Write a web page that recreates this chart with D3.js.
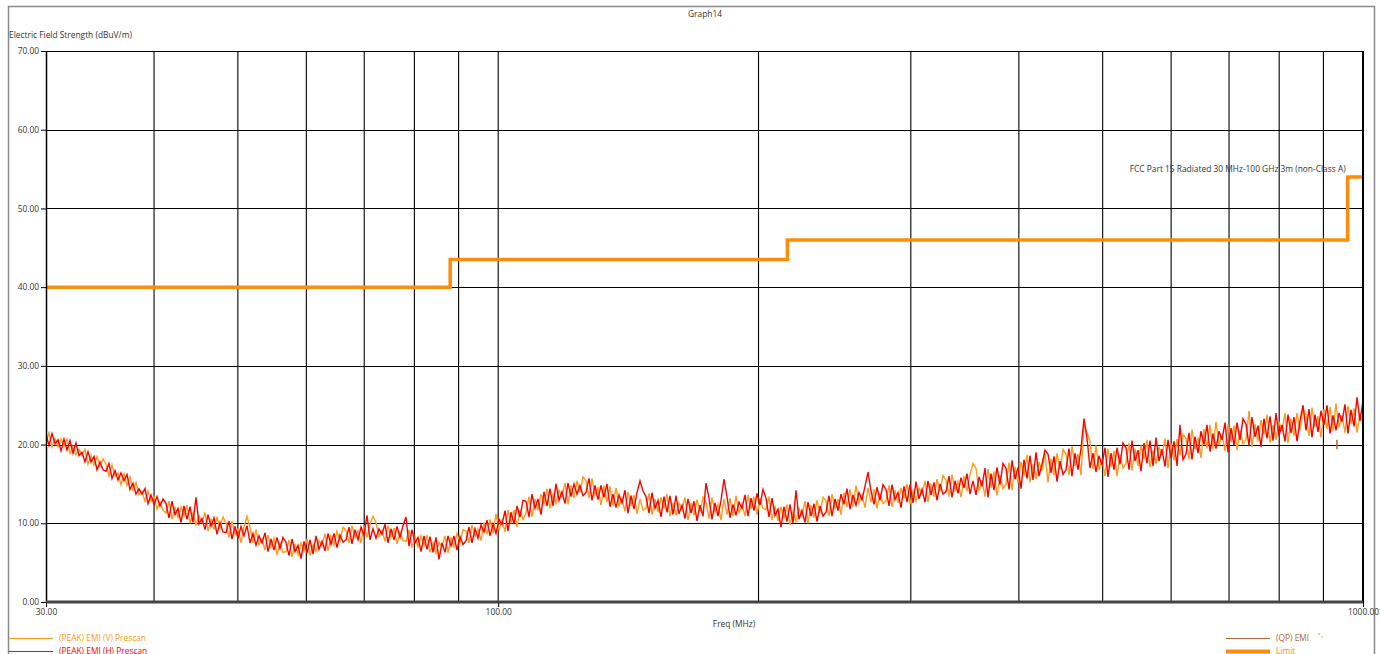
<!DOCTYPE html>
<html>
<head>
<meta charset="utf-8">
<script src="https://cdn.jsdelivr.net/npm/d3@7/dist/d3.min.js"></script>
<style>
  body { margin: 0; background: #fff; }
  svg text { font-family: 'Open Sans', 'Noto Sans', sans-serif; }
</style>
</head>
<body>
<div id="chart"></div>
<script>
'use strict';

// Sweep: 30 MHz to 1 GHz, log spaced readings
var sweepStart = 30
var sweepStop = 1000
var sweepCount = 440

// (PEAK) EMI (H) Prescan, dBuV/m
var peakH = [
  21.3, 19.9, 21.4, 20.1, 20.6, 19.2, 20.7, 19.3, 20.5, 18.9,
  20.2, 18.6, 19.0, 17.8, 19.1, 17.8, 18.5, 16.8, 17.8, 16.8,
  16.6, 17.6, 15.7, 16.7, 15.5, 16.4, 15.4, 16.2, 14.3, 15.1,
  13.7, 14.4, 13.7, 14.4, 12.5, 13.6, 12.4, 13.4, 12.2, 13.1,
  12.5, 10.7, 12.8, 11.1, 11.9, 10.1, 12.2, 10.5, 12.1, 10.1,
  13.3, 9.9, 10.6, 9.2, 11.1, 9.6, 10.7, 8.6, 10.1, 8.9,
  8.8, 10.3, 8.0, 9.6, 8.1, 9.6, 8.4, 9.7, 7.5, 8.7,
  7.2, 8.4, 7.5, 8.8, 6.4, 8.0, 6.6, 8.2, 6.8, 8.2,
  7.6, 5.9, 8.0, 6.4, 7.2, 5.5, 7.7, 6.2, 7.9, 6.1,
  8.4, 6.7, 7.7, 6.5, 8.7, 7.3, 8.7, 6.9, 8.5, 7.6,
  7.9, 9.5, 7.4, 9.2, 7.9, 9.5, 8.5, 11.0, 7.9, 9.3,
  8.1, 9.3, 8.6, 9.9, 7.5, 9.3, 7.9, 9.6, 8.2, 9.7,
  10.8, 7.1, 9.2, 7.5, 8.2, 6.4, 8.4, 6.7, 8.3, 6.3,
  8.2, 5.4, 7.5, 6.3, 8.4, 7.1, 8.4, 6.6, 8.3, 7.3,
  7.8, 9.5, 7.5, 9.3, 8.1, 9.8, 8.9, 10.4, 8.4, 9.9,
  8.7, 10.5, 9.8, 11.6, 9.0, 11.4, 9.9, 12.2, 10.8, 12.9,
  12.8, 10.8, 13.7, 11.9, 13.1, 11.1, 14.0, 12.2, 14.4, 12.2,
  15.0, 12.9, 14.0, 12.5, 15.1, 13.4, 15.0, 13.7, 14.8, 13.5,
  13.9, 15.7, 12.9, 14.8, 13.0, 14.8, 13.3, 15.0, 12.1, 13.7,
  12.0, 13.6, 12.6, 14.2, 11.3, 13.5, 11.8, 13.9, 15.4, 14.1,
  13.4, 11.3, 13.9, 11.9, 12.9, 10.8, 13.4, 11.4, 13.5, 11.1,
  13.5, 11.2, 12.3, 10.6, 13.1, 11.3, 12.8, 10.3, 12.3, 10.9,
  15.1, 13.2, 10.5, 12.6, 10.9, 12.9, 15.6, 13.4, 10.7, 12.4,
  11.0, 12.7, 11.9, 13.6, 10.9, 13.2, 11.6, 13.8, 12.3, 14.3,
  13.2, 10.8, 13.2, 11.0, 11.8, 9.5, 12.1, 10.2, 12.4, 10.0,
  14.2, 10.5, 11.6, 10.1, 12.7, 10.9, 12.5, 10.2, 12.2, 10.9,
  11.4, 13.5, 10.9, 13.1, 11.6, 13.7, 12.4, 14.4, 11.8, 13.6,
  12.3, 13.9, 13.0, 14.7, 16.5, 14.1, 12.4, 14.6, 12.9, 14.9,
  14.3, 12.2, 14.9, 13.0, 13.9, 12.0, 14.7, 12.7, 14.9, 12.6,
  15.3, 13.1, 14.3, 12.7, 15.4, 13.6, 15.2, 12.9, 15.0, 13.7,
  14.0, 16.0, 13.3, 15.4, 13.8, 15.8, 14.5, 16.3, 13.7, 15.4,
  13.6, 15.9, 14.7, 17.0, 13.3, 16.3, 14.2, 17.1, 14.9, 17.6,
  17.0, 14.3, 18.0, 15.6, 17.1, 14.4, 18.1, 15.7, 18.6, 15.5,
  19.0, 16.0, 17.5, 19.3, 18.8, 16.4, 18.5, 15.3, 17.9, 16.2,
  16.8, 19.5, 16.0, 18.9, 16.8, 19.5, 23.3, 20.8, 17.0, 18.9,
  16.5, 18.6, 17.4, 19.6, 15.9, 18.9, 16.8, 19.6, 17.5, 20.2,
  19.6, 16.8, 20.5, 17.9, 19.3, 16.6, 20.2, 17.6, 20.5, 17.3,
  20.9, 17.9, 19.4, 17.2, 20.6, 18.3, 20.4, 17.3, 22.5, 18.1,
  18.8, 21.5, 18.1, 21.0, 18.9, 21.7, 20.0, 22.5, 19.1, 21.4,
  19.5, 21.7, 20.6, 22.8, 19.0, 22.1, 19.9, 22.8, 20.6, 23.3,
  22.6, 19.9, 23.5, 21.0, 22.4, 19.7, 23.3, 20.8, 23.6, 20.5,
  24.0, 21.1, 22.5, 20.4, 23.8, 21.5, 23.5, 20.4, 23.0, 25.0,
  21.8, 24.5, 20.9, 23.8, 21.6, 24.3, 22.5, 25.0, 21.4, 23.7,
  21.8, 24.0, 22.9, 25.1, 21.4, 24.4, 22.3, 26.0, 23.0, 25.6
]

// (PEAK) EMI (V) Prescan, dBuV/m
var peakV = [
  20.4, 21.5, 19.7, 20.8, 19.7, 20.7, 19.8, 20.7, 18.9, 19.8,
  18.7, 19.4, 18.7, 19.4, 17.5, 18.6, 17.4, 18.5, 17.3, 18.2,
  17.5, 16.0, 17.4, 16.0, 16.4, 14.9, 16.3, 14.8, 15.9, 14.2,
  15.2, 13.6, 14.0, 12.8, 14.1, 12.8, 13.4, 11.8, 12.7, 11.7,
  11.3, 12.8, 10.5, 12.1, 10.7, 12.1, 11.0, 12.3, 10.0, 11.3,
  9.8, 11.0, 10.1, 11.4, 9.0, 10.6, 9.2, 10.8, 9.4, 10.8,
  10.0, 8.2, 10.3, 8.6, 9.3, 7.5, 9.6, 10.9, 9.5, 7.5,
  9.2, 7.3, 8.0, 6.6, 8.5, 7.0, 8.1, 6.0, 7.5, 6.3,
  6.4, 7.9, 5.7, 7.4, 6.0, 7.5, 6.5, 8.0, 5.9, 7.3,
  6.4, 7.8, 7.2, 8.7, 6.5, 8.4, 7.2, 9.0, 7.8, 9.5,
  9.1, 7.5, 9.7, 8.2, 9.1, 7.5, 9.7, 8.2, 9.9, 10.9,
  10.1, 8.3, 9.1, 7.7, 9.7, 8.2, 9.4, 7.4, 8.9, 7.8,
  7.7, 9.2, 6.9, 8.4, 7.0, 8.4, 7.2, 8.5, 6.3, 7.5,
  6.2, 7.6, 7.0, 8.4, 6.2, 8.2, 7.0, 8.7, 7.5, 9.2,
  9.0, 7.5, 9.8, 8.3, 9.3, 7.8, 10.1, 8.6, 10.5, 8.7,
  11.2, 9.1, 10.4, 8.9, 11.7, 10.0, 11.7, 9.5, 11.7, 10.5,
  11.3, 13.4, 10.8, 13.1, 11.6, 13.7, 12.5, 14.4, 11.9, 13.7,
  12.5, 14.2, 13.4, 15.1, 12.4, 14.8, 13.2, 15.4, 13.9, 15.9,
  15.4, 13.2, 15.7, 13.6, 14.5, 12.3, 14.8, 12.7, 14.7, 12.2,
  14.5, 12.2, 13.2, 11.5, 14.0, 12.2, 13.6, 11.2, 13.1, 11.7,
  11.9, 13.8, 11.1, 13.1, 11.4, 13.3, 11.9, 13.7, 10.9, 12.6,
  11.0, 12.6, 11.7, 13.3, 10.4, 12.6, 11.0, 13.0, 11.4, 13.3,
  12.7, 10.6, 13.3, 11.4, 12.4, 10.4, 13.1, 11.1, 13.2, 10.9,
  13.5, 11.3, 12.5, 10.9, 13.6, 11.8, 13.4, 11.1, 13.2, 11.9,
  11.7, 13.4, 10.4, 12.2, 10.3, 12.1, 10.6, 12.4, 9.8, 11.5,
  10.2, 11.9, 11.0, 12.8, 10.0, 12.3, 10.7, 12.9, 11.3, 13.3,
  12.9, 10.9, 13.7, 11.9, 13.1, 11.1, 13.9, 12.1, 14.3, 12.1,
  14.8, 12.6, 13.6, 12.0, 14.5, 12.7, 14.3, 11.9, 13.8, 12.5,
  12.8, 14.8, 12.1, 14.2, 12.6, 14.5, 13.2, 15.0, 12.4, 14.1,
  12.8, 14.5, 13.7, 15.4, 12.7, 15.0, 13.4, 15.6, 14.1, 16.1,
  15.5, 13.4, 16.2, 14.2, 15.3, 13.3, 16.0, 14.1, 16.2, 17.6,
  17.0, 14.1, 15.5, 13.4, 16.9, 14.5, 16.6, 13.5, 16.1, 14.4,
  15.0, 17.7, 14.2, 17.2, 15.1, 17.8, 16.1, 18.7, 15.2, 17.5,
  15.6, 17.8, 16.7, 18.9, 15.2, 18.2, 16.1, 18.9, 16.8, 19.4,
  18.8, 16.1, 19.8, 17.3, 18.8, 16.1, 22.6, 21.5, 20.4, 16.9,
  19.9, 16.8, 18.2, 16.0, 19.5, 17.1, 19.2, 16.0, 18.7, 17.0,
  17.6, 20.2, 16.7, 19.5, 17.3, 19.9, 18.2, 20.6, 17.1, 19.3,
  17.5, 19.7, 18.6, 20.8, 17.0, 20.1, 18.0, 20.7, 18.6, 21.3,
  20.8, 18.1, 21.9, 19.4, 20.9, 18.3, 22.0, 19.5, 22.5, 19.4,
  22.9, 19.9, 21.4, 19.2, 22.6, 20.3, 22.4, 19.3, 21.8, 20.1,
  20.6, 24.3, 19.7, 22.6, 20.4, 23.1, 21.3, 23.8, 20.2, 22.5,
  20.6, 22.9, 21.7, 24.0, 20.2, 23.3, 21.1, 24.0, 21.8, 24.5,
  23.8, 21.1, 24.7, 22.2, 23.6, 20.9, 24.5, 22.0, 24.8, 21.7,
  25.2, 22.2, 23.7, 21.5, 24.9, 22.6, 24.6, 21.5, 24.1, 22.4
]

// (QP) EMI final measurement
var qpFreq = [933]
var qpLow = [19.4]
var qpHigh = [20.6]

// Limit: FCC Part 15 radiated, step edges
var limitFreq = [30, 88, 216, 960, 1000]
var limitLevel = [40, 43.5, 46, 54, 54]

var yTicks = [0, 10, 20, 30, 40, 50, 60, 70]
var xTickLabels = [30, 100, 1000]
var xGrid = [40, 50, 60, 70, 80, 90, 100, 200, 300, 400, 500, 600, 700, 800, 900]

var settings = {}
settings.font_size = '8.4px'
settings.text_color = '#333'
settings.color_v = '#ff9a1a'
settings.color_h = '#ff0000'
settings.color_qp = '#b06a2a'
settings.color_limit = '#ff8c0a'

var margin = {top: 51, right: 17, bottom: 52, left: 46},
    width = 1380 - margin.left - margin.right,
    height = 654 - margin.top - margin.bottom

var svg = d3.select('#chart').append('svg')
    .attr('width', 1380)
    .attr('height', 654)

svg.append('rect')
    .attr('width', 1380).attr('height', 654).attr('fill', '#fff')

// outer frame
svg.append('rect')
    .attr('x', 8.5).attr('y', 6.5)
    .attr('width', 1366).attr('height', 700)
    .attr('fill', 'none').attr('stroke', '#8a8a8a').attr('stroke-width', 1.5)

var x = d3.scaleLog().domain([sweepStart, sweepStop]).range([0, width])
var y = d3.scaleLinear().domain([0, 70]).range([height, 0])

var g = svg.append('g')
    .attr('transform', 'translate(' + margin.left + ',' + margin.top + ')')

// grid
g.selectAll('.hgrid').data(yTicks.slice(1)).enter().append('line')
    .attr('class', 'hgrid')
    .attr('x1', 0).attr('x2', width)
    .attr('y1', function(d) { return Math.round(y(d)) + 0.5 })
    .attr('y2', function(d) { return Math.round(y(d)) + 0.5 })
    .attr('stroke', '#000').attr('stroke-width', 1)

g.selectAll('.vgrid').data(xGrid).enter().append('line')
    .attr('class', 'vgrid')
    .attr('x1', function(d) { return x(d) })
    .attr('x2', function(d) { return x(d) })
    .attr('y1', 0).attr('y2', height)
    .attr('stroke', '#000').attr('stroke-width', 1.1)

// traces
var sweepFreq = d3.range(sweepCount).map(function(i) {
  return sweepStart * Math.pow(sweepStop / sweepStart, i / (sweepCount - 1))
})

g.append('clipPath').attr('id', 'plotclip')
  .append('rect').attr('width', width).attr('height', height)

var trace = d3.line()
    .x(function(d, i) { return x(sweepFreq[i]) })
    .y(function(d) { return y(d) })

g.append('path')
    .datum(peakV)
    .attr('d', trace)
    .attr('clip-path', 'url(#plotclip)')
    .attr('fill', 'none').attr('stroke', settings.color_v).attr('stroke-width', 1.4)

g.append('path')
    .datum(peakH)
    .attr('d', trace)
    .attr('clip-path', 'url(#plotclip)')
    .attr('fill', 'none').attr('stroke', settings.color_h).attr('stroke-width', 1.4)

// limit line
var limitLine = d3.line()
    .curve(d3.curveStepAfter)
    .x(function(d, i) { return x(limitFreq[i]) })
    .y(function(d) { return y(d) })

g.append('path')
    .datum(limitLevel)
    .attr('d', limitLine)
    .attr('fill', 'none').attr('stroke', settings.color_limit).attr('stroke-width', 3.5)

g.append('text')
    .attr('x', x(960) - 2).attr('y', y(54) - 5)
    .attr('text-anchor', 'end')
    .attr('font-size', settings.font_size).attr('fill', settings.text_color)
    .text('FCC Part 15 Radiated 30 MHz-100 GHz 3m (non-Class A)')

// QP marks
g.selectAll('.qp').data(qpFreq).enter().append('line')
    .attr('x1', function(d) { return x(d) }).attr('x2', function(d) { return x(d) })
    .attr('y1', function(d, i) { return y(qpLow[i]) })
    .attr('y2', function(d, i) { return y(qpHigh[i]) })
    .attr('stroke', settings.color_qp).attr('stroke-width', 1.5)

// axes
var yAxis = g.append('g')
    .call(d3.axisLeft(y).tickValues(yTicks).tickFormat(d3.format('.2f')).tickSize(5).tickPadding(2))
yAxis.select('.domain').remove()

var xAxis = g.append('g')
    .attr('transform', 'translate(0,' + height + ')')
    .call(d3.axisBottom(x).tickValues(xTickLabels).tickFormat(d3.format('.2f')).tickSize(5).tickPadding(2))
xAxis.select('.domain').remove()

g.selectAll('.tick text')
    .attr('font-family', null)
    .attr('font-size', settings.font_size)
    .attr('fill', settings.text_color)
g.selectAll('.tick line').attr('stroke', '#000')

g.append('line')
    .attr('x1', 0.5).attr('x2', 0.5).attr('y1', 0).attr('y2', height)
    .attr('stroke', '#000').attr('stroke-width', 1.5)
g.append('line')
    .attr('x1', width).attr('x2', width).attr('y1', 0).attr('y2', height)
    .attr('stroke', '#000').attr('stroke-width', 2)
g.append('line')
    .attr('x1', 0).attr('x2', width).attr('y1', height).attr('y2', height)
    .attr('stroke', '#444').attr('stroke-width', 3)

// titles
svg.append('text')
    .attr('x', 705).attr('y', 17)
    .attr('text-anchor', 'middle')
    .attr('font-size', settings.font_size).attr('fill', settings.text_color)
    .text('Graph14')

svg.append('text')
    .attr('x', 9).attr('y', 38)
    .attr('font-size', settings.font_size).attr('fill', settings.text_color)
    .text('Electric Field Strength (dBuV/m)')

svg.append('text')
    .attr('x', 734).attr('y', 627)
    .attr('text-anchor', 'middle')
    .attr('font-size', settings.font_size).attr('fill', settings.text_color)
    .text('Freq (MHz)')

// legend
var legendItems = [
  {label: '(PEAK) EMI (V) Prescan', color: settings.color_v, w: 1, x: 9, y: 638},
  {label: '(PEAK) EMI (H) Prescan', color: settings.color_h, w: 1, x: 9, y: 651},
  {label: '(QP) EMI', color: settings.color_qp, w: 1, x: 1226, y: 638},
  {label: 'Limit', color: settings.color_limit, w: 4, x: 1226, y: 651}
]

var legend = svg.selectAll('.legend').data(legendItems).enter().append('g')
    .attr('class', 'legend')
legend.append('line')
    .attr('x1', function(d) { return d.x }).attr('x2', function(d) { return d.x + 44 })
    .attr('y1', function(d) { return d.y + 0.5 }).attr('y2', function(d) { return d.y + 0.5 })
    .style('stroke', function(d) { return d.color })
    .style('stroke-width', function(d) { return d.w })
legend.append('text')
    .attr('x', function(d) { return d.x + 50 }).attr('y', function(d) { return d.y + 3 })
    .attr('font-size', settings.font_size)
    .attr('fill', function(d) { return d.color })
    .text(function(d) { return d.label })

svg.append('circle').attr('cx', 1319).attr('cy', 634).attr('r', 0.7).attr('fill', settings.color_qp)
svg.append('circle').attr('cx', 1322).attr('cy', 637).attr('r', 0.7).attr('fill', settings.color_v)
</script>
</body>
</html>
